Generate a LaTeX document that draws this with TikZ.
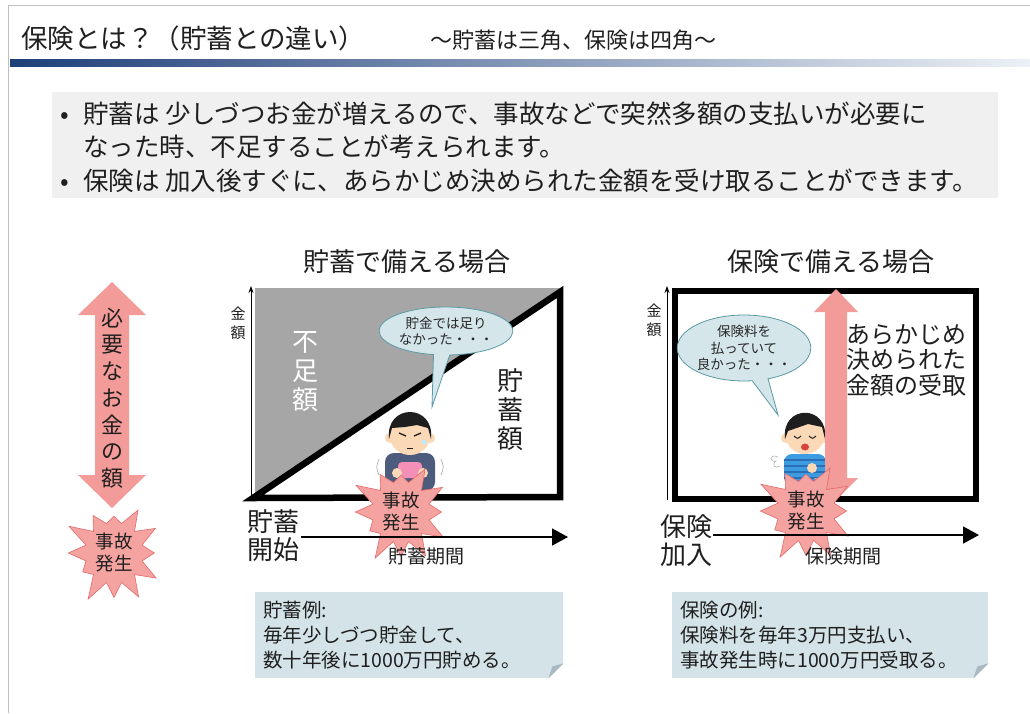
\documentclass[tikz,border=0pt]{standalone}
\usepackage{fontspec}
\setmainfont{Noto Sans CJK JP}
\usetikzlibrary{arrows.meta, shapes.symbols, shapes.callouts, positioning}

\definecolor{barnavy}{HTML}{1F3F7A}
\definecolor{barteal}{HTML}{4AA9C8}
\definecolor{barpale}{HTML}{ECF1F6}
\definecolor{boxgray}{HTML}{F0F0F0}
\definecolor{shortgray}{HTML}{A6A6A6}
\definecolor{pinkarrow}{HTML}{F29B98}
\definecolor{burstfill}{HTML}{F4A3A0}
\definecolor{burstedge}{HTML}{E36A6A}
\definecolor{bubblefill}{HTML}{D5E6EA}
\definecolor{bubbleedge}{HTML}{5B9AA6}
\definecolor{memofill}{HTML}{D3E3E8}
\definecolor{foldgray}{HTML}{A9B9C1}
\definecolor{skin}{HTML}{FCD9B6}
\definecolor{hair}{HTML}{1E1E1E}
\definecolor{shirtA}{HTML}{4D5B7C}
\definecolor{shirtB}{HTML}{3D9BE0}
\definecolor{stripeB}{HTML}{2A6FB5}
\definecolor{walletpink}{HTML}{F48FB8}
\definecolor{mouthred}{HTML}{D8423F}

\begin{document}
\begin{tikzpicture}[
    x=1pt, y=-1pt,
    txt/.style={
        inner sep=0pt,
        text=black!88
    },
    heading/.style={
        txt,
        font=\fontsize{26}{30}\selectfont
    },
    bullet/.style={
        txt,
        anchor=west,
        font=\fontsize{25.5}{30}\selectfont
    },
    vtext/.style={
        txt,
        align=center
    },
    amountaxis/.style={
        -{Stealth[length=7pt,width=5pt]},
        line width=0.8pt
    },
    timeaxis/.style={
        -{Triangle[length=16pt,width=17pt]},
        line width=1.6pt
    },
    thickline/.style={
        line width=6.5pt,
        line join=miter
    },
    bubble/.style={
        ellipse callout,
        draw=bubbleedge,
        fill=bubblefill,
        line width=0.8pt,
        callout pointer arc=14,
        align=center,
        inner sep=0pt,
        text=black!85,
        font=\fontsize{13.5}{16.5}\selectfont
    },
    burst/.style={
        starburst,
        starburst points=12,
        starburst point height=24pt,
        random starburst=23,
        fill=burstfill,
        draw=burstedge,
        line width=0.6pt,
        align=center,
        inner sep=2pt,
        text=black!88,
        font=\fontsize{18.5}{22}\selectfont
    },
    memo/.style={
        fill=memofill,
        anchor=north west,
        align=left,
        inner sep=8pt,
        minimum height=86pt,
        text=black!88,
        font=\fontsize{19.5}{25}\selectfont
    }
]
\useasboundingbox (0,0) rectangle (1030,713);
\fill[white] (0,0) rectangle (1030,713);

% Ramme og titel
\draw[black!25, line width=1pt] (8,713) -- (8,5) -- (1030,5);
\node[txt, anchor=west, font=\fontsize{26.5}{30}\selectfont] (title) at (21,38)
    {保険とは？（貯蓄との違い）};
\node[txt, anchor=west, font=\fontsize{22}{24}\selectfont] (subtitle) at (430,40)
    {～貯蓄は三角、保険は四角～};
\shade[left color=barnavy, middle color=barteal, right color=barpale]
    (10,59) rectangle (1030,66);

% Punkter
\fill[boxgray] (52,92) rectangle (998,198);
\node[bullet] (b1) at (60,114)
    {\makebox[23pt][l]{•}貯蓄は 少しづつお金が増えるので、事故などで突然多額の支払いが必要に};
\node[bullet] (b2) at (83,147)
    {なった時、不足することが考えられます。};
\node[bullet] (b3) at (60,181)
    {\makebox[23pt][l]{•}保険は 加入後すぐに、あらかじめ決められた金額を受け取ることができます。};

% Overskrifter
\node[heading] (headA) at (407,262) {貯蓄で備える場合};
\node[heading] (headB) at (831,262) {保険で備える場合};

% Nødvendigt beløb
\fill[pinkarrow] (112,282) -- (146,315) -- (129,315) -- (129,475) -- (146,475)
    -- (112,508) -- (78,475) -- (95,475) -- (95,315) -- (78,315) -- cycle;
\node[vtext, font=\fontsize{22}{26.7}\selectfont] (need) at (112,398)
    {必\\要\\な\\お\\金\\の\\額};
\node[burst, minimum width=100pt, minimum height=92pt] (accL) at (114,553)
    {事故\\発生};

% Opsparing: trekant
\fill[shortgray] (255,288) -- (563,288) -- (255,499) -- cycle;
\draw[amountaxis] (251,500) -- (251,286);
\node[vtext, font=\fontsize{15}{19}\selectfont] (amtA) at (238,323) {金\\額};
\draw[thickline] (253,498) -- (560,292) -- (560,497) -- cycle;
\node[vtext, text=white, font=\fontsize{26}{29}\selectfont] (lack) at (305,372)
    {不\\足\\額};
\node[vtext, font=\fontsize{26}{29}\selectfont] (saved) at (510,410)
    {貯\\蓄\\額};
\node[bubble, minimum width=128pt, minimum height=48pt,
    callout absolute pointer={(432,407)}] (sayA) at (446,331)
    {貯金では足り\\なかった・・・};

% Person med pung
\begin{scope}[shift={(410,433)}]
    \draw[black!35, line width=0.6pt] (-31,26) .. controls (-34,34) .. (-31,42);
    \draw[black!35, line width=0.6pt] (31,26) .. controls (34,34) .. (31,42);
    \fill[shirtA, rounded corners=9pt] (-25,20) rectangle (25,58);
    \fill[walletpink, rounded corners=4pt] (-12,29) rectangle (12,45);
    \fill[skin] (-13,40) circle[radius=5pt];
    \fill[skin] (13,40) circle[radius=5pt];
    \fill[skin] (-20,5) circle[radius=5pt];
    \fill[skin] (20,5) circle[radius=5pt];
    \fill[skin] (0,3) circle[x radius=20pt, y radius=19pt];
    \fill[hair] (-21,6) .. controls (-25,-30) and (25,-30) .. (21,6)
        -- (18,-5) -- (7,-8) -- (-5,-6) -- (-18,-5) -- cycle;
    \draw[hair, line width=1.3pt] (-11,0) -- (-4,3);
    \draw[hair, line width=1.3pt] (4,3) -- (11,0);
    \draw[hair, line width=0.8pt] (-3,15) -- (3,15);
    \fill[cyan!25] (14,9) circle[radius=2.5pt];
\end{scope}

\node[burst, minimum width=96pt, minimum height=88pt] (accA) at (401,512)
    {事故\\発生};

% Tidsakse, opsparing
\node[vtext, font=\fontsize{26}{28}\selectfont] (startA) at (273,536)
    {貯蓄\\開始};
\coordinate (tA0) at (301,537);
\coordinate (tA1) at (568,537);
\draw[timeaxis] (tA0) -- (tA1);
\node[txt, font=\fontsize{19}{22}\selectfont] (spanA) at (426,556) {貯蓄期間};

% Forsikring: firkant
\draw[amountaxis] (667,500) -- (667,286);
\node[vtext, font=\fontsize{15}{19}\selectfont] (amtB) at (654,320) {金\\額};
\draw[thickline] (675,291) rectangle (976,499);
\node[bubble, minimum width=98pt, minimum height=66pt,
    callout absolute pointer={(778,415)}] (sayB) at (744,348)
    {保険料を\\払っていて\\良かった・・・};

% Person med hånden på brystet
\begin{scope}[shift={(805,433)}]
    \draw[black!30, line width=0.6pt] (-27,24) .. controls (-36,20) and (-36,30) .. (-29,28)
        .. controls (-34,32) and (-30,36) .. (-25,33);
    \fill[shirtB, rounded corners=8pt] (-21,21) rectangle (21,52);
    \foreach \s in {27,33,39,45}
        \draw[stripeB, line width=1.4pt] (-21,\s) -- (21,\s);
    \fill[skin] (7,35) circle[radius=5pt];
    \fill[skin] (-19,5) circle[radius=5pt];
    \fill[skin] (19,5) circle[radius=5pt];
    \fill[skin] (0,3) circle[x radius=19pt, y radius=18pt];
    \fill[hair] (-20,6) .. controls (-24,-29) and (24,-29) .. (20,6)
        -- (17,-6) -- (3,-9) -- (-17,-2) -- cycle;
    \draw[hair, line width=1pt] (-11,3) .. controls (-7.5,6) .. (-4,3);
    \draw[hair, line width=1pt] (4,3) .. controls (7.5,6) .. (11,3);
    \fill[mouthred] (0,14) circle[x radius=4pt, y radius=3.5pt];
\end{scope}

% Forud aftalt udbetaling
\fill[pinkarrow] (836,289) -- (858,312) -- (847,312) -- (847,478) -- (858,478)
    -- (836,500) -- (814,478) -- (825,478) -- (825,312) -- (814,312) -- cycle;
\node[txt, anchor=west, align=left, font=\fontsize{24}{25.5}\selectfont] (paid)
    at (846,360) {あらかじめ\\決められた\\金額の受取};

\node[burst, minimum width=100pt, minimum height=86pt] (accB) at (806,511)
    {事故\\発生};

% Tidsakse, forsikring
\node[vtext, font=\fontsize{26}{28}\selectfont] (startB) at (686,541)
    {保険\\加入};
\coordinate (tB0) at (713,535);
\coordinate (tB1) at (979,535);
\draw[timeaxis] (tB0) -- (tB1);
\node[txt, font=\fontsize{19}{22}\selectfont] (spanB) at (843,556) {保険期間};

% Eksempler
\node[memo, minimum width=308pt, text width=292pt] (memoA) at (255,592)
    {貯蓄例:\\毎年少しづつ貯金して、\\数十年後に1000万円貯める。};
\fill[white] (memoA.south east) -- ++(-15,0) -- ++(15,-15) -- cycle;
\fill[foldgray] (memoA.south east) ++(-15,0) -- ++(15,-15) -- ++(-11,3) -- cycle;

\node[memo, minimum width=316pt, text width=300pt] (memoB) at (672,592)
    {保険の例:\\保険料を毎年3万円支払い、\\事故発生時に1000万円受取る。};
\fill[white] (memoB.south east) -- ++(-15,0) -- ++(15,-15) -- cycle;
\fill[foldgray] (memoB.south east) ++(-15,0) -- ++(15,-15) -- ++(-11,3) -- cycle;

\end{tikzpicture}
\end{document}
